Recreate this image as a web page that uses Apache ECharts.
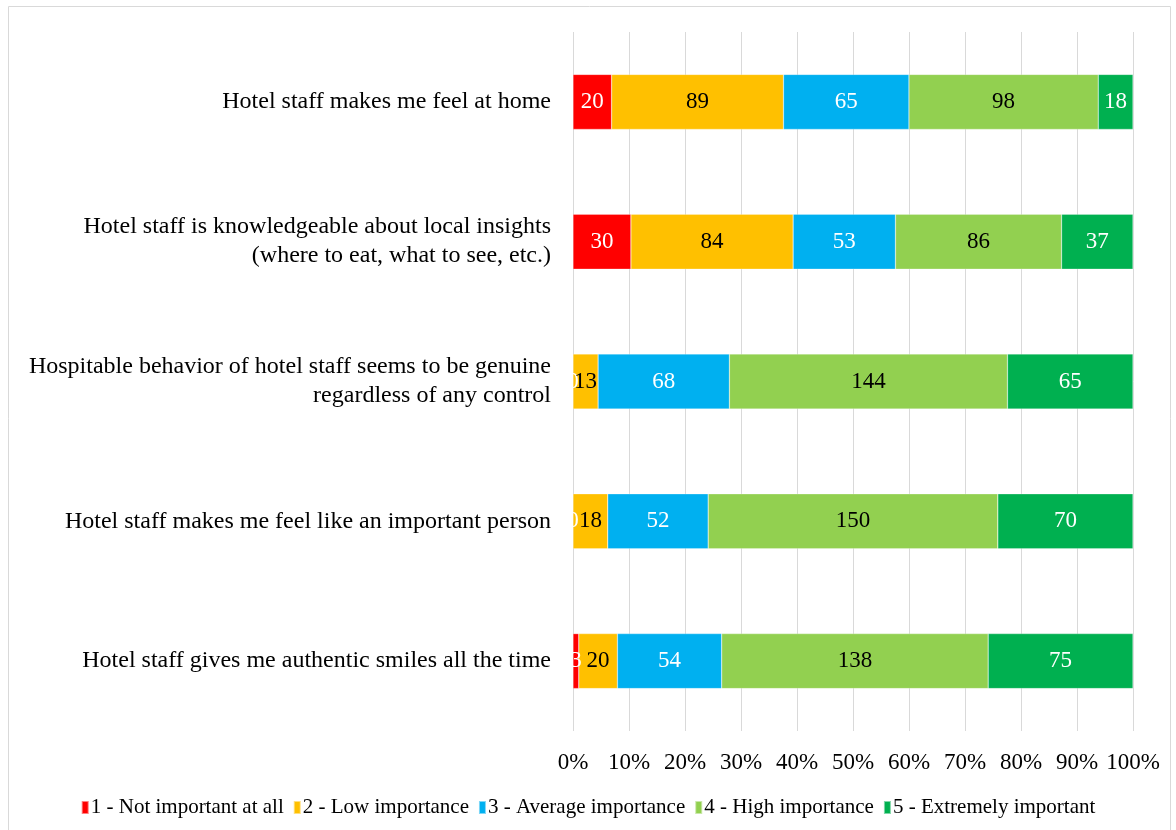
<!DOCTYPE html>
<html>
<head>
<meta charset="utf-8">
<script src="https://cdn.jsdelivr.net/npm/echarts@6/dist/echarts.min.js"></script>
<style>
  html, body { margin: 0; padding: 0; background: #fff; }
  #chart { width: 1176px; height: 830px; }
</style>
</head>
<body>
<div id="chart"></div>
<script>
  // statements, top row first
  var categories = [
    "Hotel staff makes me feel at home",
    "Hotel staff is knowledgeable about local insights\n(where to eat, what to see, etc.)",
    "Hospitable behavior of hotel staff seems to be genuine\nregardless of any control",
    "Hotel staff makes me feel like an important person",
    "Hotel staff gives me authentic smiles all the time"
  ];
  var levels = [
    "1 - Not important at all",
    "2 - Low importance",
    "3 - Average importance",
    "4 - High importance",
    "5 - Extremely important"
  ];
  var notImportant = [20, 30, 0, 0, 3];
  var lowImportance = [89, 84, 13, 18, 20];
  var avgImportance = [65, 53, 68, 52, 54];
  var highImportance = [98, 86, 144, 150, 138];
  var extremeImportance = [18, 37, 65, 70, 75];
  var respondents = 290; // every row sums to this

  var colors = ["#ff0000", "#ffc000", "#00b0f0", "#92d050", "#00b050"];
  var labelColors = ["#fff", "#000", "#fff", "#000", "#fff"];
  var seriesData = [notImportant, lowImportance, avgImportance, highImportance, extremeImportance];

  var font = "Liberation Serif";

  var chart = echarts.init(document.getElementById("chart"), null, { renderer: "canvas" });

  var series = seriesData.map(function (vals, i) {
    return {
      name: levels[i],
      type: "bar",
      stack: "total",
      barWidth: 55,
      data: vals,
      itemStyle: { color: colors[i], borderColor: "rgba(255,255,255,0.5)", borderWidth: 0.5 },
      label: {
        show: true,
        position: "inside",
        color: labelColors[i],
        fontFamily: font,
        fontSize: 23
      },
      emphasis: { disabled: true }
    };
  });

  chart.setOption({
    animation: false,
    textStyle: { fontFamily: font },
    graphic: [{
      type: "rect",
      shape: { x: 8.5, y: 6.5, width: 1162, height: 830 },
      style: { fill: "none", stroke: "#d9d9d9", lineWidth: 1 },
      silent: true
    }],
    grid: { left: 573, right: 43, top: 32, bottom: 99 },
    xAxis: {
      type: "value",
      min: 0,
      max: respondents,
      interval: respondents / 10,
      axisLine: { show: false },
      axisTick: { show: false },
      splitLine: { lineStyle: { color: "#d9d9d9", width: 1 } },
      axisLabel: {
        color: "#000",
        fontFamily: font,
        fontSize: 23,
        margin: 20,
        formatter: function (v) { return Math.round(v / respondents * 100) + "%"; }
      }
    },
    yAxis: {
      type: "category",
      data: categories,
      inverse: true,
      axisLine: { show: false },
      axisTick: { show: false },
      axisLabel: {
        color: "#000",
        fontFamily: font,
        fontSize: 24,
        margin: 22,
        lineHeight: 29,
        align: "right"
      }
    },
    legend: {
      bottom: 7,
      left: "center",
      itemWidth: 7,
      itemHeight: 13,
      itemGap: 9,
      icon: "rect",
      textStyle: { color: "#000", fontFamily: font, fontSize: 21, padding: [0, 0, 0, -3] },
      data: levels
    },
    series: series
  });
</script>
</body>
</html>
